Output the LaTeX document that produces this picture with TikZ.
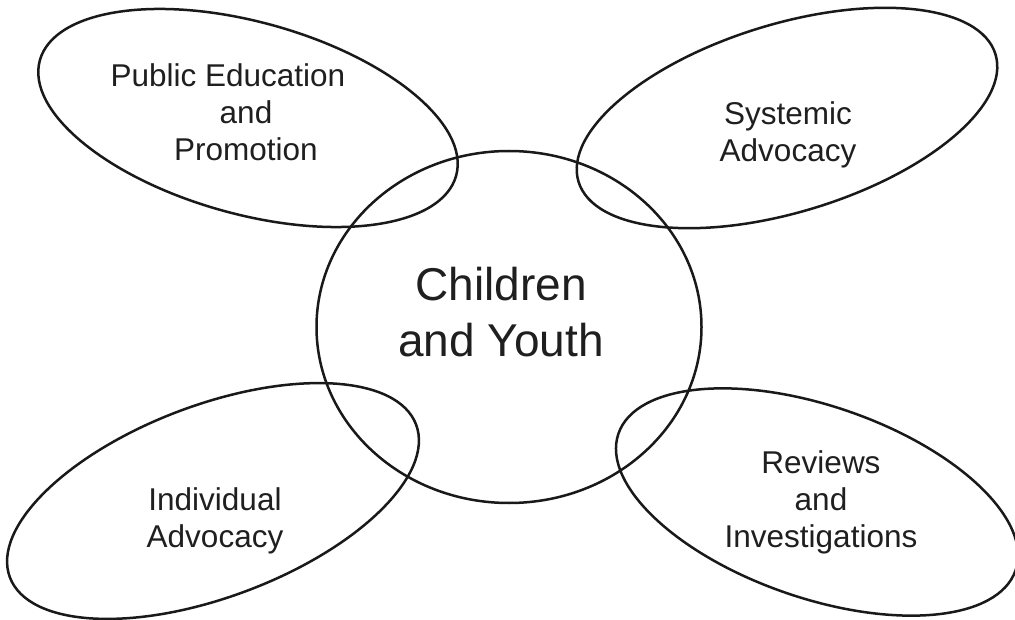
\documentclass[tikz,border=0pt]{standalone}
\usepackage{fontspec}
\setmainfont{Liberation Sans}
\usetikzlibrary{shapes.geometric}
\begin{document}
\begin{tikzpicture}[x=1pt,y=-1pt,
  petal/.style={draw=black!90, line width=2.5pt, ellipse, inner sep=0pt, outer sep=0pt},
  lbl/.style={align=center, font=\fontsize{31.5}{37}\selectfont, text=black!88, anchor=base, inner sep=0pt},
  hub/.style={align=center, font=\fontsize{46}{55}\selectfont, text=black!88, anchor=base, inner sep=0pt}]
\fill[white] (0,0) rectangle (1015,620);
\useasboundingbox (0,0) rectangle (1015,620);
% shapes
\node[petal, minimum width=385pt, minimum height=352pt] (hubshape) at (509,327) {};
\node[petal, minimum width=432pt, minimum height=192pt, rotate=-15.5] (tl) at (248,118) {};
\node[petal, minimum width=436pt, minimum height=188pt, rotate=17] (tr) at (787,118) {};
\node[petal, minimum width=434pt, minimum height=192pt, rotate=20.6] (bl) at (213,501) {};
\node[petal, minimum width=420pt, minimum height=192pt, rotate=-19] (br) at (817,502) {};
% labels (anchor=base is the baseline of the last line)
\node[hub] (hubtext) at (501,356) {Children\\and Youth};
\node[lbl] (tltext) at (246,161) {Public Education\rule{36pt}{0pt}\\and\\Promotion};
\node[lbl] (trtext) at (788,162) {Systemic\\Advocacy};
\node[lbl] (bltext) at (215,547) {Individual\\Advocacy};
\node[lbl] (brtext) at (821,547) {Reviews\\and\\Investigations};
\end{tikzpicture}
\end{document}
